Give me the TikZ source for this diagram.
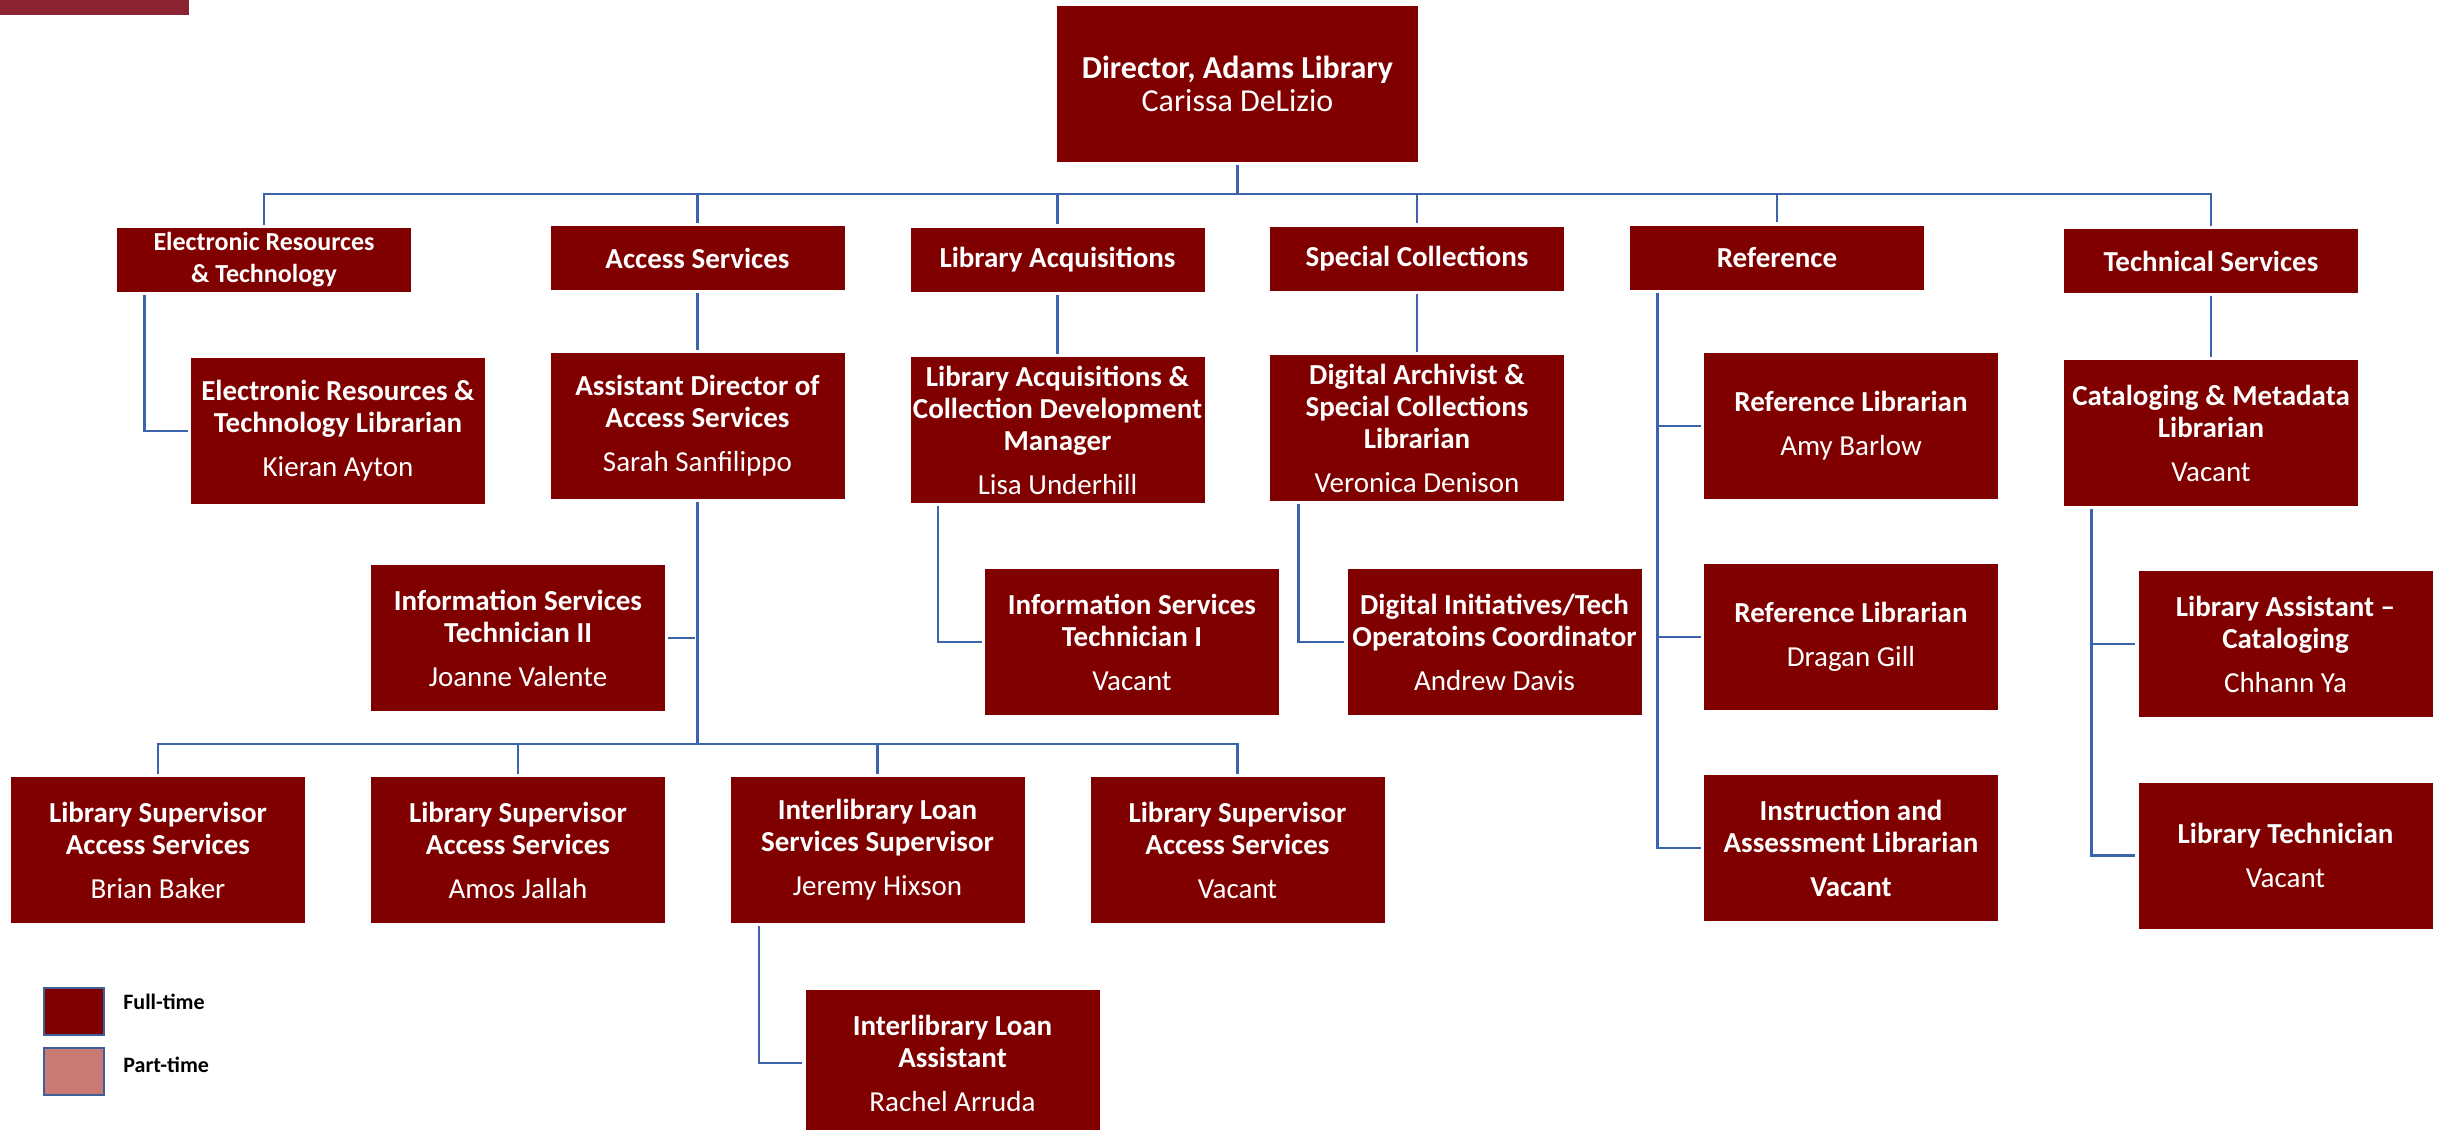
\documentclass[tikz,border=0pt]{standalone}
\usepackage{fontspec}
\setmainfont{Carlito}
\usepackage{tikz}

\definecolor{maroon}{HTML}{800000}
\definecolor{barred}{HTML}{8B2332}
\definecolor{parttime}{HTML}{C87A73}
\definecolor{linkblue}{HTML}{3C63AE}
\definecolor{keyblue}{HTML}{3F5E9A}

\begin{document}
\begin{tikzpicture}[x=0.5pt, y=-0.5pt,
	box/.style={fill=maroon, text=white, align=center, inner sep=0pt, font=\fontsize{14.5}{16}\selectfont},
	head/.style={box, minimum width=147pt, minimum height=32pt, font=\fontsize{14.5}{16}\selectfont\bfseries},
	staff/.style={box, minimum width=147pt, minimum height=73pt},
	chief/.style={box, minimum width=180.5pt, minimum height=78pt, font=\fontsize{16}{16.5}\selectfont},
	link/.style={draw=linkblue, line width=1.3pt, shorten <=1.5pt, shorten >=1.5pt},
	key/.style={draw=keyblue, line width=1pt, minimum width=30pt, minimum height=23.5pt, inner sep=0pt},
	keytext/.style={right, inner sep=0pt, font=\fontsize{11}{13}\selectfont\bfseries}
	]
	\useasboundingbox (0,0) rectangle (2445,1129);

	% Banner
	\fill[barred] (0,0) rectangle (189,15);

	% Director
	\node (dir) at (1237.5,84) [chief] {\textbf{Director, Adams Library}\\Carissa DeLizio};

	% Department heads
	\node (ert) at (264,260) [head, font=\fontsize{13}{16}\selectfont\bfseries] {Electronic Resources\\\& Technology};
	\node (acc) at (697.5,258) [head] {Access Services};
	\node (acq) at (1057.5,259.5) [head] {Library Acquisitions};
	\node (spc) at (1417,258.5) [head] {Special Collections};
	\node (ref) at (1777,257.5) [head] {Reference};
	\node (tec) at (2211,261) [head] {Technical Services};

	% Second row
	\node (ertlib) at (338,431) [staff] {\textbf{Electronic Resources \&}\\\textbf{Technology Librarian}\\[6pt]Kieran Ayton};
	\node (asst) at (697.5,426) [staff] {\textbf{Assistant Director of}\\\textbf{Access Services}\\[6pt]Sarah Sanfilippo};
	\node (acqmgr) at (1057.5,430) [staff] {\textbf{Library Acquisitions \&}\\\textbf{Collection Development}\\\textbf{Manager}\\[6pt]Lisa Underhill};
	\node (arch) at (1417,428) [staff] {\textbf{Digital Archivist \&}\\\textbf{Special Collections}\\\textbf{Librarian}\\[6pt]Veronica Denison};
	\node (amy) at (1851,426) [staff] {\textbf{Reference Librarian}\\[6pt]Amy Barlow};
	\node (catmeta) at (2211,433) [staff] {\textbf{Cataloging \& Metadata}\\\textbf{Librarian}\\[6pt]Vacant};

	% Third row
	\node (tech2) at (518,638) [staff] {\textbf{Information Services}\\\textbf{Technician II}\\[6pt]Joanne Valente};
	\node (tech1) at (1132,642) [staff] {\textbf{Information Services}\\\textbf{Technician I}\\[6pt]Vacant};
	\node (dig) at (1494.5,642) [staff] {\textbf{Digital Initiatives/Tech}\\\textbf{Operatoins Coordinator}\\[6pt]Andrew Davis};
	\node (dragan) at (1851,637) [staff] {\textbf{Reference Librarian}\\[6pt]Dragan Gill};
	\node (libasst) at (2285.5,644) [staff] {\textbf{Library Assistant –}\\\textbf{Cataloging}\\[6pt]Chhann Ya};

	% Fourth row
	\node (sup1) at (158,850) [staff] {\textbf{Library Supervisor}\\\textbf{Access Services}\\[6pt]Brian Baker};
	\node (sup2) at (518,850) [staff] {\textbf{Library Supervisor}\\\textbf{Access Services}\\[6pt]Amos Jallah};
	\node (illsup) at (877.5,850) [staff] {\textbf{Interlibrary Loan}\\\textbf{Services Supervisor}\\[6pt]Jeremy Hixson};
	\node (sup3) at (1237.5,850) [staff] {\textbf{Library Supervisor}\\\textbf{Access Services}\\[6pt]Vacant};
	\node (instr) at (1851,848) [staff] {\textbf{Instruction and}\\\textbf{Assessment Librarian}\\[6pt]\textbf{Vacant}};
	\node (libtech) at (2285.5,855.5) [staff] {\textbf{Library Technician}\\[6pt]Vacant};

	% Fifth row
	\node (illasst) at (952.5,1063) [staff] {\textbf{Interlibrary Loan}\\\textbf{Assistant}\\[6pt]Rachel Arruda};

	% Director to heads
	\coordinate (dirbus) at (1237.5,194);
	\draw[link] (dir.south) -- (dirbus) -| (ert.north);
	\draw[link] (dir.south) -- (dirbus) -| (acc.north);
	\draw[link] (dir.south) -- (dirbus) -| (acq.north);
	\draw[link] (dir.south) -- (dirbus) -| (spc.north);
	\draw[link] (dir.south) -- (dirbus) -| (ref.north);
	\draw[link] (dir.south) -- (dirbus) -| (tec.north);

	% Heads to staff
	\draw[link] ([xshift=14pt]ert.south west) |- (ertlib.west);
	\draw[link] (acc.south) -- (asst.north);
	\draw[link] (acq.south) -- (acqmgr.north);
	\draw[link] (spc.south) -- (arch.north);
	\draw[link] (tec.south) -- (catmeta.north);
	\draw[link] ([xshift=14pt]ref.south west) |- (amy.west);
	\draw[link] ([xshift=14pt]ref.south west) |- (dragan.west);
	\draw[link] ([xshift=14pt]ref.south west) |- (instr.west);
	\draw[link] ([xshift=14pt]catmeta.south west) |- (libasst.west);
	\draw[link] ([xshift=14pt]catmeta.south west) |- (libtech.west);
	\draw[link] ([xshift=14pt]acqmgr.south west) |- (tech1.west);
	\draw[link] ([xshift=14.5pt]arch.south west) |- (dig.west);

	% Access Services staff
	\coordinate (accbus) at (697.5,744);
	\draw[link] (tech2.east) -- (tech2.east -| asst.south);
	\draw[link] (asst.south) -- (accbus) -| (sup1.north);
	\draw[link] (asst.south) -- (accbus) -| (sup2.north);
	\draw[link] (asst.south) -- (accbus) -| (illsup.north);
	\draw[link] (asst.south) -- (accbus) -| (sup3.north);
	\draw[link] ([xshift=14.5pt]illsup.south west) |- (illasst.west);

	% Legend
	\node (fullkey) at (73.5,1011) [key, fill=maroon] {};
	\node (partkey) at (73.5,1071.5) [key, fill=parttime] {};
	\node (fulltext) at (123,1002) [keytext] {Full-time};
	\node (parttext) at (123,1065) [keytext] {Part-time};

\end{tikzpicture}
\end{document}
